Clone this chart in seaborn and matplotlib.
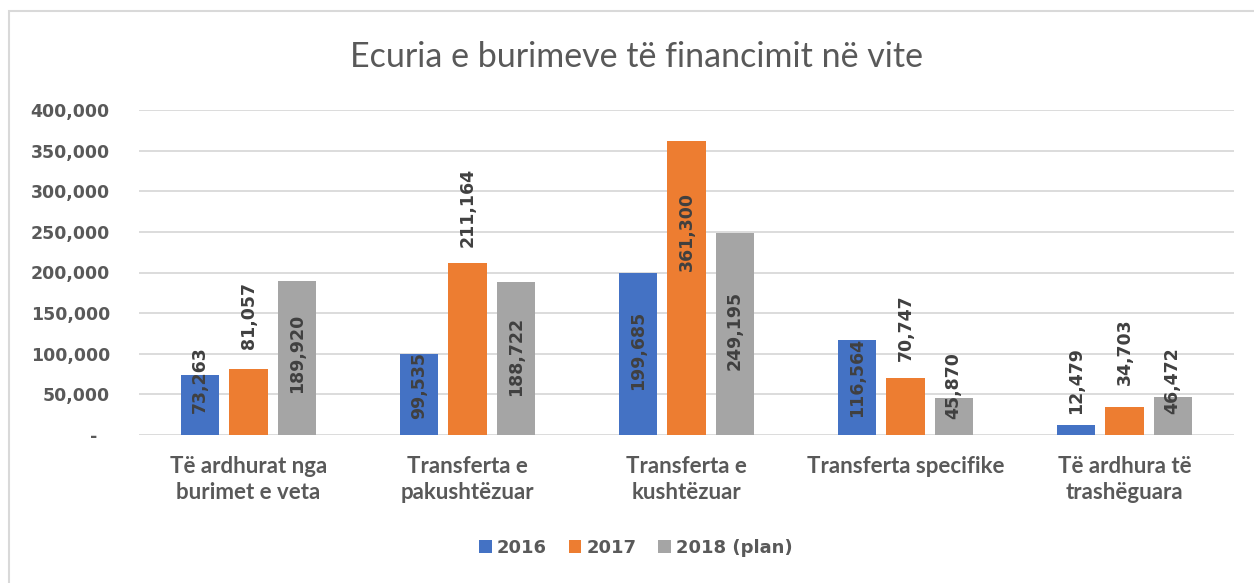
import matplotlib
matplotlib.use("Agg")
import matplotlib.pyplot as plt
import matplotlib.ticker as mticker
from matplotlib.patches import Rectangle, Patch
import seaborn as sns
import pandas as pd

# ---- data ----
categories = ["Të ardhurat nga\nburimet e veta", "Transferta e\npakushtëzuar",
              "Transferta e\nkushtëzuar", "Transferta specifike",
              "Të ardhura të\ntrashëguara"]
series = ["2016", "2017", "2018 (plan)"]
v2016 = [73263, 99535, 199685, 116564, 12479]
v2017 = [81057, 211164, 361300, 70747, 34703]
v2018 = [189920, 188722, 249195, 45870, 46472]
yticks = [0, 50000, 100000, 150000, 200000, 250000, 300000, 350000, 400000]

# label placement (pixel offset of label centre from bar top), style only
label_offsets = {
    "2016": [-4, -31, -78, -37, 44],
    "2017": [54, 56, -90, 50, 55],
    "2018 (plan)": [-73, -75, -98, 12, 17],
}

colors = ["#4472C4", "#ED7D31", "#A5A5A5"]
text_gray = "#595959"

rows = []
for s, vals in zip(series, [v2016, v2017, v2018]):
    for c, v in zip(categories, vals):
        rows.append({"category": c, "series": s, "value": v})
df = pd.DataFrame(rows)

sns.set_theme(style="white")
plt.rcParams["font.family"] = ["DejaVu Sans"]

fig = plt.figure(figsize=(12.54, 5.83), dpi=100)
W, H = 1254, 583
ax = fig.add_axes([139 / W, 1 - 435 / H, 1095 / W, 325 / H])

sns.barplot(data=df, x="category", y="value", hue="series", order=categories,
            hue_order=series, palette=colors, width=0.66, gap=0.21,
            saturation=1, ax=ax, legend=False, linewidth=0)

ax.set_ylim(0, 400000)
ax.set_xlim(-0.5, len(categories) - 0.5)
ax.set_yticks(yticks)
ax.yaxis.set_major_formatter(mticker.FuncFormatter(
    lambda v, p: "-  " if v == 0 else f"{int(v):,}"))
ax.grid(axis="y", color="#D9D9D9", linewidth=1.3)
ax.set_axisbelow(True)
for sp in ax.spines.values():
    sp.set_visible(False)
ax.set_xlabel("")
ax.set_ylabel("")
ax.tick_params(axis="y", length=0, pad=21, labelsize=12.5, labelcolor=text_gray)
ax.tick_params(axis="x", length=0, pad=15, labelcolor=text_gray)
for lbl in ax.get_yticklabels():
    lbl.set_fontweight("bold")
for lbl in ax.get_xticklabels():
    lbl.set_fontfamily(["Lato", "DejaVu Sans"])
    lbl.set_fontweight("bold")
    lbl.set_fontsize(16)
    lbl.set_linespacing(1.3)

# value labels
for cont, s, vals in zip(ax.containers, series, [v2016, v2017, v2018]):
    for bar, v, off in zip(cont, vals, label_offsets[s]):
        x = bar.get_x() + bar.get_width() / 2
        ax.annotate(f"{v:,}", xy=(x, bar.get_height()), xytext=(0, off),
                    textcoords="offset pixels", rotation=90, ha="center",
                    va="center", fontsize=12.5, fontweight="bold",
                    color="#404040")

# title
fig.text(636 / W, 1 - 57 / H, "Ecuria e burimeve të financimit në vite",
         ha="center", va="center", fontsize=24.5, color=text_gray,
         family=["Lato", "DejaVu Sans"], fontweight="normal")

# legend
handles = [Patch(facecolor=c, edgecolor="none") for c in colors]
leg = fig.legend(handles, series, loc="center", bbox_to_anchor=(636 / W, 1 - 548 / H),
                 ncol=3, frameon=False, handlelength=0.7, handleheight=0.7,
                 handletextpad=0.3, columnspacing=1.2,
                 prop={"size": 13, "weight": "bold"})
for t in leg.get_texts():
    t.set_color(text_gray)

# chart border
fig.add_artist(Rectangle((9 / W, -0.2), 1.5, 1.2 - 11 / H, transform=fig.transFigure,
                         fill=False, edgecolor="#D9D9D9", linewidth=1.5))

fig.savefig("out.png", dpi=100, facecolor="white")
